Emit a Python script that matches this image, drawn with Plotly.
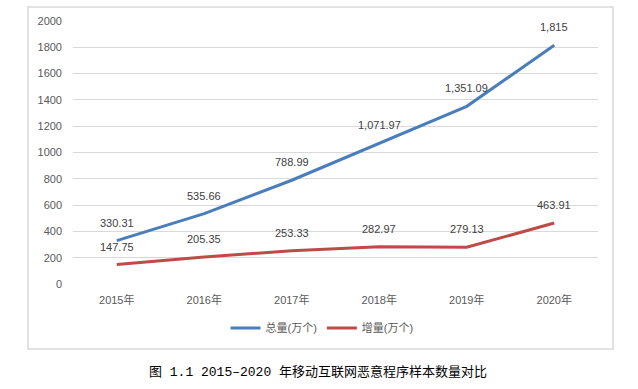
import plotly.graph_objects as go

categories = ["2015年", "2016年", "2017年", "2018年", "2019年", "2020年"]
total = [330.31, 535.66, 788.99, 1071.97, 1351.09, 1815]
increase = [147.75, 205.35, 253.33, 282.97, 279.13, 463.91]
series_names = ["总量(万个)", "增量(万个)"]
y_ticks = [0, 200, 400, 600, 800, 1000, 1200, 1400, 1600, 1800, 2000]
caption = "图 1.1 2015–2020 年移动互联网恶意程序样本数量对比"

BLUE = "#4A7EBB"
RED = "#BE4B48"
FONT = "Liberation Sans, Noto Sans CJK SC, sans-serif"


def fmt(v):
    if float(v).is_integer():
        return f"{v:,.0f}"
    return f"{v:,.2f}"


fig = go.Figure()
fig.add_trace(go.Scatter(x=categories, y=total, mode="lines", name=series_names[0],
                         line=dict(color=BLUE, width=3)))
fig.add_trace(go.Scatter(x=categories, y=increase, mode="lines", name=series_names[1],
                         line=dict(color=RED, width=3)))

L, R, T, B = 73, 40, 21, 105
pw, ph = 638 - L - R, 389 - T - B


def px_x(p):
    return (p - L) / pw


def px_y(p):
    return (389 - B - p) / ph


annotations = []
for series in (total, increase):
    for c, v in zip(categories, series):
        annotations.append(dict(x=c, y=v, xref="x", yref="y", text=fmt(v), showarrow=False,
                                yshift=18, font=dict(family=FONT, size=11, color="#404040")))
annotations.append(dict(x=px_x(318), y=px_y(372), xref="paper", yref="paper", text=caption, showarrow=False,
                        font=dict(family="Liberation Mono, Noto Sans CJK SC, monospace", size=13, color="#000000"),
                        xanchor="center", yanchor="middle"))

fig.update_layout(
    width=638, height=389,
    margin=dict(l=L, r=R, t=T, b=B),
    paper_bgcolor="white", plot_bgcolor="white",
    font=dict(family=FONT, size=11, color="#595959"),
    showlegend=True,
    legend=dict(orientation="h", x=px_x(322), xanchor="center", y=px_y(328), yanchor="middle",
                font=dict(family=FONT, size=11, color="#595959"), itemwidth=30),
    xaxis=dict(type="category", range=[-0.5, 5.5], showgrid=False, zeroline=False,
               showline=False, ticks="", ticklabelstandoff=8,
               tickfont=dict(family=FONT, size=11, color="#595959")),
    yaxis=dict(range=[0, 2000], tickvals=y_ticks, showgrid=True, gridcolor="#D9D9D9",
               gridwidth=1, zeroline=False, showline=False, ticks="", ticklabelstandoff=10,
               tickfont=dict(family=FONT, size=11, color="#595959")),
    annotations=annotations,
    shapes=[dict(type="rect", xref="paper", yref="paper",
                 x0=px_x(28), x1=px_x(613), y0=px_y(349), y1=px_y(7),
                 line=dict(color="#D9D9D9", width=1.5), fillcolor="rgba(0,0,0,0)", layer="below")],
)

fig.write_html("out.html", config={"displayModeBar": False})

with open("out.html", "r", encoding="utf-8") as f:
    html = f.read()
html = html.replace("<head>", "<head><style>html,body{margin:0;padding:0;overflow:hidden;}</style>", 1)
with open("out.html", "w", encoding="utf-8") as f:
    f.write(html)
